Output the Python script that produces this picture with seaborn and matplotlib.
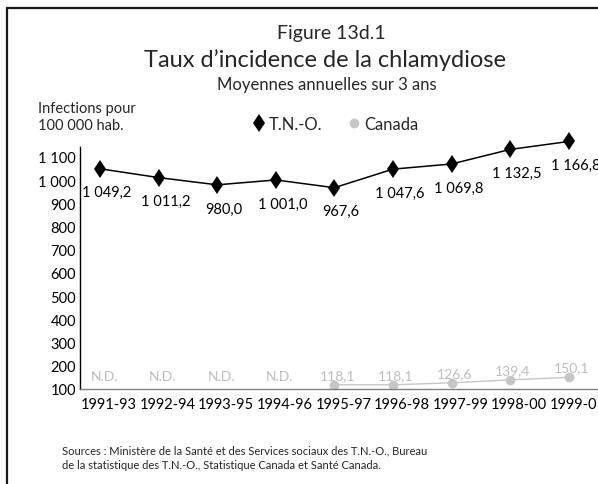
import numpy as np
import pandas as pd
import matplotlib
matplotlib.use("Agg")
import matplotlib.pyplot as plt
from matplotlib.lines import Line2D
from matplotlib.transforms import ScaledTranslation
import seaborn as sns

periods = ["1991-93", "1992-94", "1993-95", "1994-96", "1995-97",
           "1996-98", "1997-99", "1998-00", "1999-01"]
tno = [1049.2, 1011.2, 980.0, 1001.0, 967.6, 1047.6, 1069.8, 1132.5, 1166.8]
canada = [np.nan, np.nan, np.nan, np.nan, 118.1, 118.1, 126.6, 139.4, 150.1]
y_ticks = [100, 200, 300, 400, 500, 600, 700, 800, 900, 1000, 1100]

sns.set_theme(style="white")
plt.rcParams["font.family"] = ["Lato", "DejaVu Sans"]

GREY = "#c6c6c6"
GREY_TXT = "#bdbdbd"


def fr(v):
    """French number format: space grouping, comma decimal."""
    s = f"{v:,.1f}"
    return s.replace(",", " ").replace(".", ",")


def fr_int(v):
    return f"{int(v):,}".replace(",", " ")


df = pd.DataFrame({"pos": np.arange(len(periods)), "tno": tno, "canada": canada})

fig = plt.figure(figsize=(5.98, 4.85), dpi=100)
ax = fig.add_axes([80 / 598, 95 / 485, 518 / 598, 242 / 485])

sns.lineplot(data=df, x="pos", y="canada", ax=ax, color=GREY, lw=1.0,
             marker="o", markersize=7, markeredgewidth=0, clip_on=False)
sns.lineplot(data=df, x="pos", y="tno", ax=ax, color="black", lw=1.1,
             marker="d", markersize=9.5, markeredgewidth=0, clip_on=False)

ax.set_xlim(-0.341, 8.5)
ax.set_ylim(100, 1143)
ax.set_yticks(y_ticks)
ax.set_yticklabels([fr_int(v) for v in y_ticks])
ax.set_xticks(df["pos"])
ax.set_xticklabels(periods)
ax.set_xlabel("")
ax.set_ylabel("")
ax.tick_params(axis="both", length=0, labelsize=10.5, colors="black")
ax.tick_params(axis="y", pad=3)
ax.tick_params(axis="x", pad=6)
shift = ScaledTranslation(9 / 100, 0, fig.dpi_scale_trans)
for lab in ax.get_xticklabels():
    lab.set_transform(lab.get_transform() + shift)

for side in ["top", "right"]:
    ax.spines[side].set_visible(False)
ax.spines["left"].set_color("black")
ax.spines["left"].set_linewidth(1.0)
ax.spines["bottom"].set_color("#808080")
ax.spines["bottom"].set_linewidth(1.0)

# value labels
for i, v in enumerate(tno):
    ax.annotate(fr(v), xy=(i, v), xytext=(5, -17), textcoords="offset points",
                ha="center", va="center", fontsize=10.5, color="black",
                annotation_clip=False)
ND_LEVEL = 118.1
for i, v in enumerate(canada):
    if np.isnan(v):
        ax.annotate("N.D.", xy=(i, ND_LEVEL), xytext=(3, 6), textcoords="offset points",
                    ha="center", va="center", fontsize=10, color=GREY_TXT,
                    annotation_clip=False)
    else:
        ax.annotate(fr(v), xy=(i, v), xytext=(2, 7), textcoords="offset points",
                    ha="center", va="center", fontsize=10, color=GREY_TXT,
                    annotation_clip=False)

# titles
fig.text(331 / 598, 1 - 33 / 485, "Figure 13d.1", ha="center", va="center", fontsize=14)
fig.text(325 / 598, 1 - 60 / 485, "Taux d\u2019incidence de la chlamydiose",
         ha="center", va="center", fontsize=17)
fig.text(327 / 598, 1 - 85 / 485, "Moyennes annuelles sur 3 ans",
         ha="center", va="center", fontsize=12)
fig.text(38 / 598, 1 - 109 / 485, "Infections pour", ha="left", va="center", fontsize=10.5)
fig.text(38 / 598, 1 - 126 / 485, "100 000 hab.", ha="left", va="center", fontsize=10.5)

# legend
handles = [Line2D([], [], ls="none", marker="d", color="black", markersize=9.5,
                  markeredgewidth=0),
           Line2D([], [], ls="none", marker="o", color=GREY, markersize=7,
                  markeredgewidth=0)]
fig.legend(handles, ["T.N.-O.", "Canada"], loc="center", ncol=2,
           bbox_to_anchor=(336 / 598, 1 - 125 / 485), frameon=False,
           fontsize=12, handlelength=0.6, handletextpad=0.3, columnspacing=1.6,
           borderpad=0)

# sources
fig.text(62 / 598, 1 - 451 / 485,
         "Sources : Ministère de la Santé et des Services sociaux des T.N.-O., Bureau",
         ha="left", va="center", fontsize=8)
fig.text(62 / 598, 1 - 466 / 485,
         "de la statistique des T.N.-O., Statistique Canada et Santé Canada.",
         ha="left", va="center", fontsize=8)

# frame around the figure
fig.add_artist(Line2D([7 / 598, 7 / 598], [0, 1 - 9 / 485], transform=fig.transFigure,
                      color="#1a1a1a", lw=1.6))
fig.add_artist(Line2D([7 / 598, 1], [1 - 9 / 485, 1 - 9 / 485], transform=fig.transFigure,
                      color="#1a1a1a", lw=1.6))

fig.savefig("out.png", dpi=100)
